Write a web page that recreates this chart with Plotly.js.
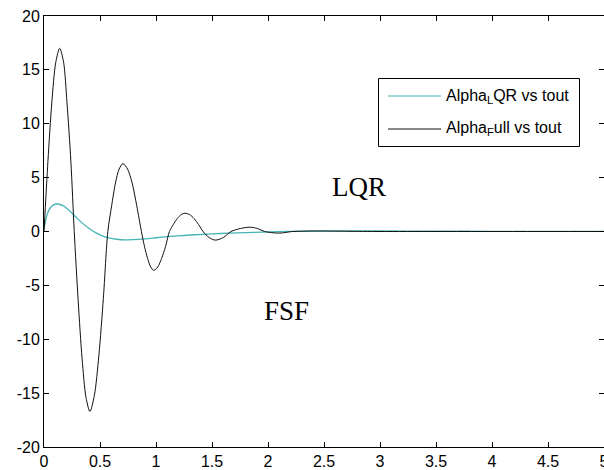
<!DOCTYPE html>
<html>
<head>
<meta charset="utf-8">
<script src="https://cdn.plot.ly/plotly-3.0.1.min.js"></script>
<style>
  html, body { margin: 0; padding: 0; background: #fff; }
  #chart { width: 604px; height: 470px; }
</style>
</head>
<body>
<div id="chart"></div>
<script>
// ---- Data ----
const tLQR = [0, 0.02, 0.05, 0.08, 0.12, 0.17, 0.22, 0.28, 0.34, 0.40, 0.46, 0.52, 0.58, 0.65, 0.72, 0.80, 0.90, 1.0, 1.1, 1.2, 1.35, 1.5, 1.65, 1.8, 1.95, 2.1, 2.3, 2.6, 3.0, 3.5, 4.0, 4.5, 5.0];
const alphaLQR = [0.2, 1.3, 2.1, 2.45, 2.55, 2.4, 2.0, 1.4, 0.8, 0.3, -0.1, -0.4, -0.6, -0.72, -0.78, -0.75, -0.68, -0.58, -0.48, -0.4, -0.3, -0.22, -0.15, -0.1, -0.05, -0.02, 0.02, 0.05, 0.05, 0.03, 0.02, 0.01, 0.01];

const tFull = [0, 0.035, 0.07, 0.105, 0.14, 0.175, 0.205, 0.24, 0.27, 0.305, 0.34, 0.375, 0.41, 0.45, 0.49, 0.53, 0.57,
  0.604, 0.638, 0.671, 0.705, 0.746, 0.787, 0.828, 0.87, 0.8975, 0.925, 0.9525, 0.98, 1.015, 1.05, 1.085, 1.12,
  1.155, 1.19, 1.225, 1.26, 1.30, 1.34, 1.38, 1.42, 1.475, 1.53, 1.60, 1.67, 1.755, 1.84, 1.905, 1.97, 2.1, 2.22, 2.4, 2.7, 3.0, 3.5, 4.0, 4.5, 5.0];
const alphaFull = [0, 6.5, 12, 15.7, 17, 15.7, 12, 6.5, 0, -6.4, -11.8, -15.4, -16.7, -15.2, -11.5, -6.2, 0,
  2.4, 4.5, 5.8, 6.3, 5.8, 4.5, 2.4, 0, -1.4, -2.5, -3.3, -3.6, -3.3, -2.5, -1.4, 0,
  0.65, 1.2, 1.57, 1.7, 1.57, 1.2, 0.65, 0, -0.57, -0.8, -0.57, 0, 0.28, 0.4, 0.28, 0, -0.15, 0, 0.05, 0.02, 0, 0, 0, 0, 0];

const seriesNames = ["Alpha<sub>L</sub>QR vs tout", "Alpha<sub>F</sub>ull vs tout"];
const xTickVals = [0, 0.5, 1, 1.5, 2, 2.5, 3, 3.5, 4, 4.5, 5];
const xTickText = ["0", "0.5", "1", "1.5", "2", "2.5", "3", "3.5", "4", "4.5", "5"];
const yTickVals = [-20, -15, -10, -5, 0, 5, 10, 15, 20];
const yTickText = ["-20", "-15", "-10", "-5", "0", "5", "10", "15", "20"];
const textLabels = ["LQR", "FSF"];
const textPos = [[2.81, 4.1], [2.165, -7.4]];

// ---- Layout helpers ----
const W = 604, H = 470;
const M = {l: 44, r: 0, t: 16, b: 23};
const pw = W - M.l - M.r, ph = H - M.t - M.b;
const px = x => (x - M.l) / pw;        // pixel -> paper x
const py = y => (H - M.b - y) / ph;    // pixel -> paper y

const cyan = "#45b4b4";
const black = "#111111";

const traces = [
  {x: tLQR, y: alphaLQR, type: "scatter", mode: "lines", name: seriesNames[0],
   line: {color: cyan, width: 1.3, shape: "spline", smoothing: 0.8}},
  {x: tFull, y: alphaFull, type: "scatter", mode: "lines", name: seriesNames[1],
   line: {color: black, width: 1, shape: "spline", smoothing: 0.8}}
];

const tickFont = {family: "Liberation Sans, Arial, sans-serif", size: 16, color: "#000"};
const legFont = {family: "Liberation Sans, Arial, sans-serif", size: 16, color: "#000"};
const serif = {family: "Liberation Serif, Times New Roman, serif", size: 27, color: "#000"};

const legendRows = [96, 129];
const legendColors = [cyan, black];

const shapes = [
  {type: "rect", xref: "paper", yref: "paper", x0: px(378.5), x1: px(579.5), y0: py(146.5), y1: py(78.5),
   line: {color: "#000", width: 1}, fillcolor: "#fff", layer: "above"}
];
const annotations = [];
legendRows.forEach((r, i) => {
  shapes.push({type: "line", xref: "paper", yref: "paper", x0: px(388), x1: px(441), y0: py(r), y1: py(r),
    line: {color: legendColors[i], width: 1}, layer: "above"});
  annotations.push({xref: "paper", yref: "paper", x: px(444), y: py(r), xanchor: "left", yanchor: "middle",
    text: seriesNames[i], showarrow: false, font: legFont});
});
textLabels.forEach((t, i) => {
  annotations.push({xref: "x", yref: "y", x: textPos[i][0], y: textPos[i][1], xanchor: "center", yanchor: "middle",
    text: t, showarrow: false, font: serif});
});

const axisCommon = {showline: true, linecolor: "#000", linewidth: 1, mirror: "ticks", ticks: "inside",
  ticklen: 5, tickwidth: 1, tickcolor: "#000", showgrid: false, zeroline: false, tickfont: tickFont,
  tickmode: "array", ticklabeloverflow: "allow"};

const layout = {
  width: W, height: H,
  margin: M,
  paper_bgcolor: "#fff", plot_bgcolor: "#fff",
  showlegend: false,
  xaxis: Object.assign({}, axisCommon, {range: [0, 5], tickvals: xTickVals, ticktext: xTickText}),
  yaxis: Object.assign({}, axisCommon, {range: [-20, 20], tickvals: yTickVals, ticktext: yTickText}),
  shapes: shapes,
  annotations: annotations
};

Plotly.newPlot("chart", traces, layout, {staticPlot: true, displayModeBar: false});
</script>
</body>
</html>
